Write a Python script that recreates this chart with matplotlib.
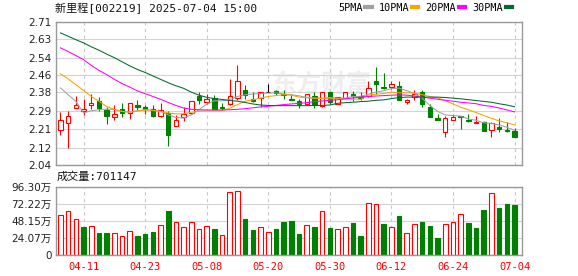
import numpy as np
import matplotlib
matplotlib.use('Agg')
import matplotlib.pyplot as plt
from matplotlib.lines import Line2D

plt.rcParams['font.family'] = ['DejaVu Sans', 'Noto Sans CJK SC']

# trading days shown (04-08 .. 07-04)
dates = ['04-08', '04-09', '04-10', '04-11', '04-14', '04-15', '04-16', '04-17', '04-18', '04-21',
         '04-22', '04-23', '04-24', '04-25', '04-28', '04-29', '04-30', '05-06', '05-07', '05-08',
         '05-09', '05-12', '05-13', '05-14', '05-15', '05-16', '05-19', '05-20', '05-21', '05-22',
         '05-23', '05-26', '05-27', '05-28', '05-29', '05-30', '06-03', '06-04', '06-05', '06-06',
         '06-09', '06-10', '06-11', '06-12', '06-13', '06-16', '06-17', '06-18', '06-19', '06-20',
         '06-23', '06-24', '06-25', '06-26', '06-27', '06-30', '07-01', '07-02', '07-03', '07-04']
tick_dates = ['04-11', '04-23', '05-08', '05-20', '05-30', '06-12', '06-24', '07-04']

opens = [2.203, 2.234, 2.306, 2.290, 2.321, 2.340, 2.298, 2.263, 2.301, 2.282,
         2.321, 2.312, 2.301, 2.271, 2.282, 2.220, 2.265, 2.284, 2.363, 2.334,
         2.352, 2.313, 2.324, 2.352, 2.390, 2.349, 2.352, 2.381, 2.384, 2.373,
         2.349, 2.340, 2.324, 2.362, 2.317, 2.381, 2.324, 2.352, 2.373, 2.363,
         2.362, 2.434, 2.402, 2.402, 2.410, 2.336, 2.356, 2.381, 2.312, 2.260,
         2.193, 2.252, 2.271, 2.252, 2.234, 2.240, 2.203, 2.218, 2.203, 2.201]
highs = [2.287, 2.292, 2.363, 2.349, 2.373, 2.356, 2.310, 2.321, 2.330, 2.329,
         2.342, 2.321, 2.321, 2.330, 2.290, 2.274, 2.309, 2.338, 2.381, 2.373,
         2.366, 2.330, 2.443, 2.505, 2.412, 2.381, 2.381, 2.420, 2.391, 2.391,
         2.373, 2.349, 2.371, 2.381, 2.381, 2.381, 2.356, 2.381, 2.384, 2.381,
         2.434, 2.496, 2.470, 2.434, 2.434, 2.349, 2.390, 2.390, 2.324, 2.279,
         2.271, 2.277, 2.271, 2.279, 2.271, 2.246, 2.243, 2.259, 2.240, 2.212]
lows = [2.181, 2.119, 2.306, 2.274, 2.301, 2.290, 2.232, 2.252, 2.262, 2.254,
        2.298, 2.279, 2.262, 2.262, 2.129, 2.220, 2.246, 2.280, 2.324, 2.324,
        2.298, 2.299, 2.318, 2.343, 2.349, 2.334, 2.312, 2.379, 2.368, 2.349,
        2.342, 2.306, 2.321, 2.306, 2.313, 2.324, 2.324, 2.352, 2.340, 2.343,
        2.356, 2.371, 2.396, 2.396, 2.342, 2.324, 2.343, 2.313, 2.262, 2.252,
        2.171, 2.252, 2.209, 2.243, 2.234, 2.201, 2.173, 2.193, 2.193, 2.173]
closes = [2.249, 2.268, 2.321, 2.301, 2.330, 2.304, 2.271, 2.279, 2.282, 2.329,
          2.312, 2.301, 2.271, 2.296, 2.181, 2.251, 2.277, 2.338, 2.343, 2.349,
          2.302, 2.304, 2.363, 2.431, 2.365, 2.340, 2.381, 2.381, 2.374, 2.368,
          2.343, 2.327, 2.371, 2.321, 2.381, 2.334, 2.356, 2.381, 2.362, 2.354,
          2.399, 2.420, 2.399, 2.418, 2.342, 2.345, 2.371, 2.324, 2.262, 2.252,
          2.259, 2.262, 2.265, 2.246, 2.243, 2.201, 2.234, 2.210, 2.198, 2.173]

ma5 = [2.400, 2.368, 2.337, 2.283, 2.293, 2.298, 2.301, 2.299, 2.290, 2.287,
       2.293, 2.298, 2.295, 2.290, 2.274, 2.262, 2.259, 2.274, 2.298, 2.324,
       2.340, 2.340, 2.345, 2.360, 2.368, 2.371, 2.374, 2.376, 2.377, 2.371,
       2.368, 2.363, 2.355, 2.352, 2.352, 2.355, 2.352, 2.352, 2.360, 2.360,
       2.371, 2.380, 2.387, 2.396, 2.399, 2.387, 2.374, 2.352, 2.318, 2.290,
       2.274, 2.271, 2.268, 2.255, 2.249, 2.237, 2.234, 2.227, 2.216, 2.202]
ma10 = [2.466, 2.442, 2.415, 2.388, 2.360, 2.338, 2.313, 2.300, 2.290, 2.287,
        2.292, 2.297, 2.295, 2.290, 2.283, 2.279, 2.279, 2.287, 2.291, 2.293,
        2.293, 2.294, 2.305, 2.322, 2.338, 2.344, 2.352, 2.360, 2.364, 2.368,
        2.366, 2.357, 2.354, 2.352, 2.350, 2.349, 2.349, 2.349, 2.348, 2.346,
        2.366, 2.370, 2.374, 2.380, 2.377, 2.377, 2.376, 2.368, 2.360, 2.353,
        2.341, 2.325, 2.310, 2.298, 2.285, 2.271, 2.258, 2.246, 2.237, 2.227]
ma20 = [2.587, 2.570, 2.551, 2.532, 2.505, 2.482, 2.462, 2.440, 2.420, 2.404,
        2.386, 2.373, 2.360, 2.347, 2.332, 2.318, 2.306, 2.300, 2.298, 2.297,
        2.297, 2.297, 2.298, 2.300, 2.303, 2.307, 2.311, 2.314, 2.318, 2.322,
        2.325, 2.328, 2.331, 2.336, 2.339, 2.342, 2.345, 2.349, 2.353, 2.357,
        2.360, 2.362, 2.364, 2.366, 2.367, 2.366, 2.362, 2.357, 2.352, 2.347,
        2.342, 2.338, 2.333, 2.330, 2.326, 2.318, 2.314, 2.306, 2.297, 2.288]
ma30 = [2.657, 2.641, 2.625, 2.610, 2.592, 2.576, 2.558, 2.541, 2.522, 2.503,
        2.486, 2.472, 2.456, 2.440, 2.424, 2.410, 2.398, 2.380, 2.366, 2.356,
        2.350, 2.346, 2.341, 2.338, 2.332, 2.325, 2.320, 2.318, 2.317, 2.317,
        2.317, 2.317, 2.317, 2.318, 2.318, 2.320, 2.328, 2.331, 2.333, 2.336,
        2.338, 2.342, 2.344, 2.350, 2.355, 2.357, 2.357, 2.357, 2.357, 2.357,
        2.355, 2.352, 2.349, 2.345, 2.341, 2.337, 2.333, 2.326, 2.320, 2.312]

volumes = [562000, 623000, 505000, 397000, 411000, 312000, 312000, 307000, 264000, 340000,
           269000, 297000, 326000, 425000, 623000, 467000, 392000, 467000, 364000, 411000,
           368000, 283000, 892000, 906000, 510000, 359000, 392000, 326000, 368000, 472000,
           482000, 297000, 420000, 397000, 623000, 382000, 364000, 392000, 453000, 269000,
           732000, 718000, 439000, 392000, 552000, 307000, 434000, 467000, 411000, 241000,
           434000, 467000, 576000, 453000, 382000, 637000, 873000, 666000, 722000, 701147]

price_ticks = [2.04, 2.12, 2.21, 2.29, 2.38, 2.46, 2.54, 2.63, 2.71]
vol_ticks = [0, 240750, 481500, 722250, 963000]
vol_tick_labels = ['0', '24.07万', '48.15万', '72.22万', '96.30万']

ma_names = ['5PMA', '10PMA', '20PMA', '30PMA']
ma_colors = ['#a0a0a0', '#f5a400', '#ff00ff', '#006b2e']

RED = '#ff0000'
GREEN = '#008000'
GRID = '#d4d4d4'
SPINE = '#999999'

x = np.arange(len(dates))
o = np.array(opens)
h = np.array(highs)
l = np.array(lows)
c = np.array(closes)
tick_pos = [dates.index(d) for d in tick_dates]

fig = plt.figure(figsize=(5.78, 2.76), dpi=100)
ax = fig.add_axes([0.0969, 0.4022, 0.8062, 0.5199])
axv = fig.add_axes([0.0969, 0.0761, 0.8062, 0.2475])

for a in (ax, axv):
    a.set_xlim(-0.58, 59.97)
    for s in a.spines.values():
        s.set_color(SPINE)
        s.set_linewidth(1.0)
    a.set_xticks(tick_pos)
    a.grid(axis='y', color=GRID, lw=0.8, ls='-')
    a.grid(axis='x', color='#c8c8c8', lw=0.8, ls=(0, (3, 3)))
    a.set_axisbelow(True)
    a.tick_params(length=0, labelsize=7.5, colors='#222222', pad=3)

# watermark
ax.text(0.57, 0.56, '东方财富', transform=ax.transAxes, ha='center', va='center',
        fontsize=18, fontweight='bold', color='#eeeeee', family='Noto Sans CJK SC', zorder=0)

# candles
up = c > o
down = c < o
flat = c == o
width = 0.58
ax.vlines(x[up], l[up], h[up], color=RED, lw=0.8, zorder=2)
ax.bar(x[up], c[up] - o[up], bottom=o[up], width=width, facecolor='white',
       edgecolor=RED, lw=0.8, zorder=2.1)
ax.vlines(x[down], l[down], h[down], color=GREEN, lw=0.8, zorder=2)
ax.bar(x[down], o[down] - c[down], bottom=c[down], width=width, facecolor=GREEN,
       edgecolor=GREEN, lw=0.8, zorder=2.1)
ax.vlines(x[flat], l[flat], h[flat], color='black', lw=0.8, zorder=2)
ax.hlines(c[flat], x[flat] - width / 2, x[flat] + width / 2, color='black', lw=0.8, zorder=2.1)

# moving averages
for vals, col in zip([ma5, ma10, ma20, ma30], ma_colors):
    ax.plot(x, vals, color=col, lw=0.75, zorder=3)

ax.set_ylim(2.04, 2.71)
ax.set_yticks(price_ticks)
ax.set_yticklabels(['%.2f' % v for v in price_ticks])
ax.set_xticklabels([])

# volume bars, coloured by close vs previous close
vol = np.array(volumes)
vol_up = np.r_[True, c[1:] >= c[:-1]]
axv.bar(x[vol_up], vol[vol_up], width=0.6, facecolor='white', edgecolor=RED, lw=0.8)
axv.bar(x[~vol_up], vol[~vol_up], width=0.6, facecolor=GREEN, edgecolor=GREEN, lw=0.8)
axv.set_ylim(0, 963000)
axv.set_yticks(vol_ticks)
axv.set_yticklabels(vol_tick_labels)
axv.set_xticklabels(tick_dates, family='DejaVu Sans Mono', fontsize=7.5)
axv.tick_params(axis='x', colors=RED, pad=5)

# texts
fig.text(0.095, 0.971, '新里程[002219] 2025-07-04 15:00', ha='left', va='center',
         fontsize=8, color='#111111', family=['DejaVu Sans Mono', 'Noto Sans CJK SC'])
fig.text(0.098, 0.359, '成交量:' + str(volumes[-1]), ha='left', va='center',
         fontsize=8, color='#111111', family=['DejaVu Sans Mono', 'Noto Sans CJK SC'])

handles = [Line2D([], [], color=col, lw=3) for col in ma_colors]
fig.legend(handles, ma_names, ncol=4, loc='center right', bbox_to_anchor=(0.886, 0.971),
           markerfirst=False, frameon=False, handlelength=0.6, handletextpad=0.3,
           columnspacing=0.7, borderaxespad=0, borderpad=0,
           prop={'family': 'DejaVu Sans Mono', 'size': 7.3})

fig.savefig('out.png', dpi=100)
